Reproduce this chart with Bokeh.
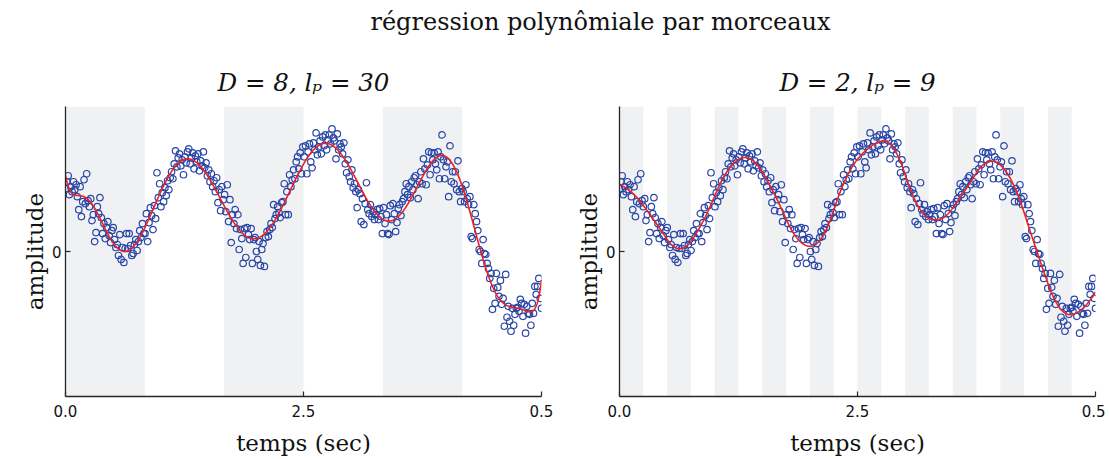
import numpy as np
from bokeh.plotting import figure
from bokeh.layouts import column, row
from bokeh.models import FixedTicker, Range1d, ColumnDataSource
from bokeh.core.properties import value
from bokeh.embed import file_html
from bokeh.resources import INLINE

# ---------------- data ----------------
suptitle = "régression polynômiale par morceaux"
panel_titles = ["D = 8, lₚ = 30", "D = 2, lₚ = 9"]
degrees = [8, 2]
n_pieces = [6, 20]
duration = 0.5
x_ticks = [0.0, 0.25, 0.5]
x_tick_labels = ["0.0", "2.5", "0.5"]
y_ticks = [0.0]
y_tick_labels = ["0"]
x_label = "temps (sec)"
y_label = "amplitude"

amp_1 = [0.63, 0.70, 0.76, 0.57, 0.65, 0.60, 0.70, 0.62, 0.67, 0.55,
         0.42, 0.65, 0.35, 0.50, 0.72, 0.48, 0.78, 0.51, 0.45, 0.53,
         0.31, 0.37, 0.10, 0.19, 0.45, 0.38, 0.54, 0.34, 0.18, 0.28,
         0.13, 0.24, 0.30, 0.16, 0.09, 0.21, 0.24, 0.12, 0.04, 0.07,
         -0.04, 0.17, -0.08, 0.04, -0.11, 0.03, 0.18, 0.03, 0.18, 0.06,
         -0.04, -0.02, 0.07, 0.12, 0.01, 0.10, 0.21, 0.14, 0.28, 0.18]
amp_2 = [0.18, 0.38, 0.10, 0.29, 0.44, 0.36, 0.22, 0.46, 0.33, 0.79,
         0.54, 0.68, 0.45, 0.59, 0.50, 0.64, 0.56, 0.71, 0.62, 0.74,
         0.80, 0.73, 0.88, 1.01, 0.85, 0.94, 0.98, 0.86, 0.92, 0.77,
         0.95, 0.89, 1.00, 1.03, 0.88, 0.94, 0.99, 0.83, 0.96, 0.90,
         0.98, 0.81, 0.91, 0.86, 1.00, 0.84, 0.89, 0.76, 0.82, 0.70,
         0.78, 0.65, 0.71, 0.60, 0.74, 0.49, 0.62, 0.41, 0.65, 0.52]
amp_3 = [0.57, 0.40, 0.67, 0.30, 0.52, 0.09, 0.37, 0.28, 0.42, 0.23,
         0.37, 0.02, 0.22, 0.13, -0.12, 0.23, -0.06, 0.24, 0.17, 0.12,
         0.23, -0.12, 0.12, 0.14, 0.00, -0.08, 0.10, -0.14, 0.02, 0.08,
         -0.15, 0.14, 0.20, 0.15, 0.22, 0.28, 0.24, 0.47, 0.33, 0.37,
         0.45, 0.39, 0.34, 0.49, 0.50, 0.68, 0.37, 0.60, 0.37, 0.77,
         0.65, 0.72, 0.82, 0.73, 0.90, 0.95, 0.83, 0.99, 0.78, 1.05]
amp_4 = [0.95, 1.06, 0.78, 1.00, 1.08, 0.90, 0.84, 1.09, 1.02, 1.19,
         0.97, 1.05, 1.11, 0.98, 1.15, 1.06, 1.17, 1.02, 1.12, 1.17,
         1.08, 1.23, 1.14, 1.11, 0.93, 1.18, 1.02, 1.08, 1.05, 0.98,
         1.09, 0.88, 0.79, 0.92, 0.75, 0.70, 0.82, 0.64, 0.68, 0.60,
         0.44, 0.62, 0.58, 0.30, 0.53, 0.27, 0.48, 0.69, 0.42, 0.38,
         0.47, 0.35, 0.40, 0.32, 0.37, 0.42, 0.32, 0.43, 0.35, 0.18]
amp_5 = [0.44, 0.28, 0.37, 0.18, 0.17, 0.46, 0.32, 0.48, 0.38, 0.20,
         0.29, 0.43, 0.47, 0.36, 0.50, 0.53, 0.60, 0.68, 0.57, 0.65,
         0.54, 0.70, 0.62, 0.74, 0.76, 0.67, 0.53, 0.70, 0.80, 0.68,
         0.93, 0.83, 0.67, 0.87, 1.00, 0.77, 0.99, 0.92, 0.99, 0.88,
         0.82, 1.00, 0.73, 0.95, 1.17, 0.92, 0.73, 0.85, 0.90, 0.55,
         1.06, 0.70, 0.80, 0.68, 0.80, 0.62, 0.91, 0.60, 0.50, 0.63]
amp_6 = [0.60, 0.50, 0.67, 0.53, 0.47, 0.55, 0.15, 0.13, 0.47, 0.38,
         0.30, 0.21, 0.02, 0.00, -0.12, 0.12, -0.02, -0.03, -0.12, -0.17,
         -0.27, -0.22, -0.58, -0.37, -0.52, -0.22, -0.36, -0.45, -0.29, -0.53,
         -0.47, -0.75, -0.23, -0.66, -0.55, -0.70, -0.80, -0.57, -0.74, -0.63,
         -0.57, -0.56, -0.60, -0.48, -0.52, -0.65, -0.53, -0.82, -0.55, -0.62,
         -0.63, -0.74, -0.52, -0.62, -0.35, -0.43, -0.35, -0.27, -0.47, -0.57]

amplitude = np.array(amp_1 + amp_2 + amp_3 + amp_4 + amp_5 + amp_6)
n_samples = len(amplitude)
time = np.arange(n_samples) * duration / (n_samples - 1)

# ---------------- styles ----------------
SERIF = "DejaVu Serif"
SANS = "DejaVu Sans"
BAND = "#f0f1f3"
BLUE = "#2946a6"
RED = "#ee2020"
AXIS = "#262626"
Y_LIM = 1.455


def piecewise_fit(t, y, degree, pieces, n_eval=1200):
    u = t / t.max()
    knots = np.arange(1, pieces) / pieces

    def basis(v):
        s = 2 * v - 1
        cols = [s ** j for j in range(degree + 1)]
        cols += [np.clip(v - k, 0, None) ** degree for k in knots]
        return np.column_stack(cols)

    coef, *_ = np.linalg.lstsq(basis(u), y, rcond=None)
    ue = np.linspace(0, 1, n_eval)
    return ue * t.max(), basis(ue) @ coef


def make_panel(title, degree, pieces, width, border_left, border_right):
    p = figure(width=width, height=403,
               x_range=Range1d(0, duration), y_range=Range1d(-Y_LIM, Y_LIM),
               output_backend="svg", toolbar_location=None,
               min_border_left=border_left, min_border_right=border_right,
               min_border_top=50, min_border_bottom=62)
    p.title.text = title
    p.title.align = "center"
    p.title.text_font = SERIF
    p.title.text_font_style = "italic"
    p.title.text_font_size = "24.5px"
    p.title.text_color = "#111111"
    p.title.standoff = 20

    # alternating shaded pieces
    edges = np.arange(pieces + 1) * duration / pieces
    shaded = np.arange(0, pieces, 2)
    p.quad(left=edges[shaded], right=edges[shaded + 1],
           bottom=-Y_LIM, top=Y_LIM, fill_color=BAND, line_color=None)

    src = ColumnDataSource(dict(t=time, a=amplitude))
    p.scatter("t", "a", source=src, marker="circle", size=6.5,
              fill_alpha=0, line_color=BLUE, line_width=1.2)

    tf, yf = piecewise_fit(time, amplitude, degree, pieces)
    p.line(tf, yf, line_color=RED, line_width=1.6)

    p.grid.visible = False
    p.outline_line_color = None
    for ax in (p.xaxis, p.yaxis):
        ax.axis_line_color = AXIS
        ax.axis_line_width = 1.3
        ax.major_tick_line_color = AXIS
        ax.major_tick_line_width = 1.2
        ax.major_tick_in = 5
        ax.major_tick_out = 0
        ax.minor_tick_line_color = None
        ax.major_label_text_font = SANS
        ax.major_label_text_font_size = "15px"
        ax.major_label_text_color = "#111111"
        ax.axis_label_text_font = SERIF
        ax.axis_label_text_font_style = "normal"
        ax.axis_label_text_font_size = "23px"
        ax.axis_label_text_color = "#111111"
    p.xaxis.ticker = FixedTicker(ticks=x_ticks)
    p.xaxis.major_label_overrides = dict(zip(x_ticks, x_tick_labels))
    p.yaxis.ticker = FixedTicker(ticks=y_ticks)
    p.yaxis.major_label_overrides = dict(zip(y_ticks, y_tick_labels))
    p.xaxis.axis_label = x_label
    p.yaxis.axis_label = y_label
    p.xaxis.major_label_standoff = 8
    p.xaxis.axis_label_standoff = 10
    p.yaxis.major_label_standoff = 4
    p.yaxis.axis_label_standoff = 1
    return p


header = figure(width=1105, height=55, x_range=Range1d(0, 1105), y_range=Range1d(0, 55),
                output_backend="svg", toolbar_location=None,
                min_border_left=0, min_border_right=0, min_border_top=0, min_border_bottom=0)
header.axis.visible = False
header.grid.visible = False
header.outline_line_color = None
header.text(x=[600], y=[34], text=[suptitle], text_align="center",
            text_baseline="alphabetic", text_font=value(SERIF),
            text_font_size="24px", text_color="#111111")

p1 = make_panel(panel_titles[0], degrees[0], n_pieces[0], 572, 65, 31)
p2 = make_panel(panel_titles[1], degrees[1], n_pieces[1], 533, 47, 10)

layout = column(header, row(p1, p2))
open("out.html", "w").write(file_html(layout, INLINE))
